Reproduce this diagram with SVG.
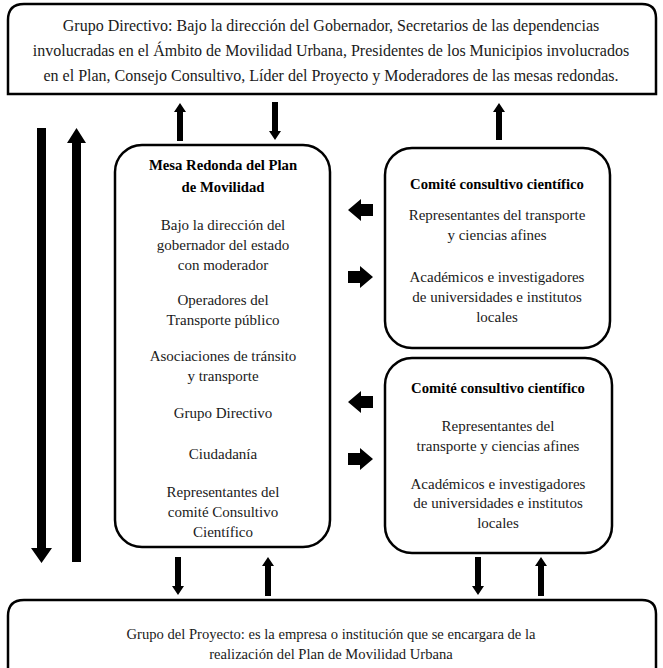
<svg xmlns="http://www.w3.org/2000/svg" width="663" height="668" viewBox="0 0 663 668">
<style>
.box{fill:#fff;stroke:#000;stroke-width:2.5}
text{font-family:'Liberation Serif',serif;font-size:15px;fill:#1a1a1a;text-anchor:middle}
.tb{font-weight:bold;font-size:14.7px;fill:#000}
.top{font-size:16px}
.bot{font-size:14.6px}
.a{fill:#000}
</style>
<rect width="663" height="668" fill="#fff"/>
<g id="grupo-directivo">
<path class="box" d="M8,94 V20 Q8,4 24,4 H642 Q656,4 656,18 V94 Z"/>
<text class="top" x="331" y="31">Grupo Directivo: Bajo la dirección del Gobernador, Secretarios de las dependencias</text>
<text class="top" x="331" y="56">involucradas en el Ámbito de Movilidad Urbana, Presidentes de los Municipios involucrados</text>
<text class="top" x="331" y="81">en el Plan, Consejo Consultivo, Líder del Proyecto y Moderadores de las mesas redondas.</text>
</g>
<g id="mesa-redonda">
<rect class="box" x="115" y="145" width="215" height="402" rx="27" ry="27"/>
<text class="tb" x="223" y="170">Mesa Redonda del Plan</text>
<text class="tb" x="223" y="192">de Movilidad</text>
<text x="223" y="230">Bajo la dirección del</text>
<text x="223" y="250">gobernador del estado</text>
<text x="223" y="270">con moderador</text>
<text x="223" y="305">Operadores del</text>
<text x="223" y="325">Transporte público</text>
<text x="223" y="361">Asociaciones de tránsito</text>
<text x="223" y="381">y transporte</text>
<text x="223" y="418">Grupo Directivo</text>
<text x="223" y="459">Ciudadanía</text>
<text x="223" y="497">Representantes del</text>
<text x="223" y="517">comité Consultivo</text>
<text x="223" y="537">Científico</text>
</g>
<g id="comite-1">
<rect class="box" x="385" y="148" width="225" height="200" rx="27" ry="27"/>
<text class="tb" x="497" y="189">Comité consultivo científico</text>
<text x="497" y="220">Representantes del transporte</text>
<text x="497" y="240">y ciencias afines</text>
<text x="497" y="282">Académicos e investigadores</text>
<text x="497" y="302">de universidades e institutos</text>
<text x="497" y="322">locales</text>
</g>
<g id="comite-2">
<rect class="box" x="385" y="358" width="227" height="195" rx="27" ry="27"/>
<text class="tb" x="498" y="393">Comité consultivo científico</text>
<text x="498" y="431">Representantes del</text>
<text x="498" y="451">transporte y ciencias afines</text>
<text x="498" y="489">Académicos e investigadores</text>
<text x="498" y="508">de universidades e institutos</text>
<text x="498" y="528">locales</text>
</g>
<g id="grupo-proyecto">
<path class="box" d="M8,680 V616 Q8,600 24,600 H642 Q656,600 656,614 V680 Z"/>
<text class="bot" x="331" y="639">Grupo del Proyecto: es la empresa o institución que se encargara de la</text>
<text class="bot" x="331" y="659">realización del Plan de Movilidad Urbana</text>
</g>
<g id="connectors">
<polygon class="a" points="37,128 46,128 46,548 52,548 41.5,563 31,548 37,548"/>
<polygon class="a" points="76.5,128 86,143 81,143 81,562 72,562 72,143 67,143"/>
<polygon class="a" points="180,103 186,112 183,112 183,141 177,141 177,112 174,112"/>
<polygon class="a" points="272,102 278,102 278,131 281,131 275,140 269,131 272,131"/>
<polygon class="a" points="499,103 505,112 502,112 502,140 496,140 496,112 493,112"/>
<polygon class="a" points="348,210 361,199 361,204 373,204 373,216 361,216 361,221"/>
<polygon class="a" points="373,277 360,266 360,271 348,271 348,283 360,283 360,288"/>
<polygon class="a" points="348,402 361,391 361,396 373,396 373,408 361,408 361,413"/>
<polygon class="a" points="373,459 360,448 360,453 348,453 348,465 360,465 360,470"/>
<polygon class="a" points="175,557 181,557 181,586 184,586 178,595 172,586 175,586"/>
<polygon class="a" points="268,557 274,566 271,566 271,596 265,596 265,566 262,566"/>
<polygon class="a" points="475,557 481,557 481,586 484,586 478,595 472,586 475,586"/>
<polygon class="a" points="541,557 547,566 544,566 544,596 538,596 538,566 535,566"/>
</g>
</svg>
